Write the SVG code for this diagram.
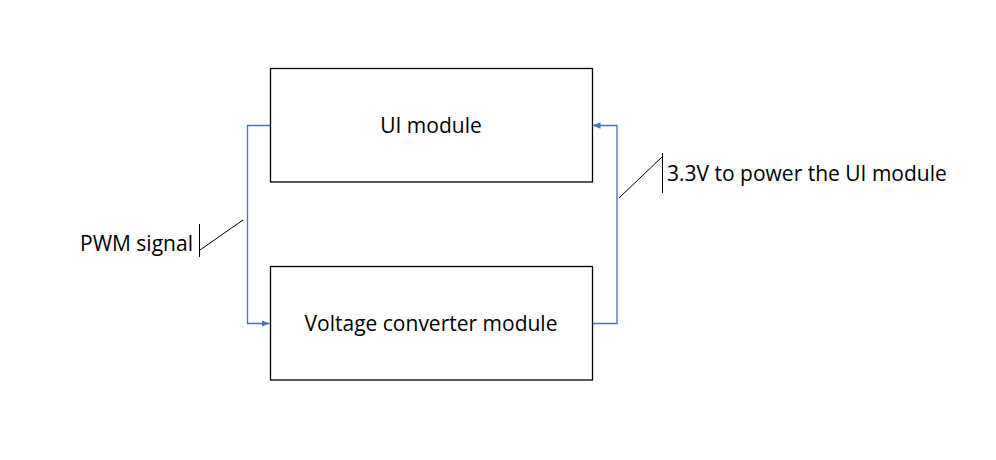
<svg xmlns="http://www.w3.org/2000/svg" width="996" height="460" viewBox="0 0 996 460">
<defs>
<style>
.box{fill:#fff;stroke:#000;stroke-width:1.3}
.lbl{font-family:"Open Sans","Noto Sans",sans-serif;font-size:21px;fill:#000}
.conn{fill:none;stroke:#4a72b8;stroke-width:1.3}
.call{fill:none;stroke:#000;stroke-width:1}
</style>
<marker id="arr" viewBox="0 0 10 8" refX="10" refY="4" markerWidth="8" markerHeight="6.4" markerUnits="userSpaceOnUse" orient="auto">
<path d="M0,0 L10,4 L0,8 Z" fill="#4a72b8"/>
</marker>
</defs>
<rect width="996" height="460" fill="#fff"/>
<g id="connectors">
<path class="conn" d="M270,125.5 H247.5 V323.5 H269.5" marker-end="url(#arr)"/>
<path class="conn" d="M592,323.5 H617 V125.5 H592.5" marker-end="url(#arr)"/>
</g>
<g id="ui-module">
<rect class="box" x="270.5" y="68.5" width="322" height="113.5"/>
<text class="lbl" x="431" y="133" text-anchor="middle">UI module</text>
</g>
<g id="voltage-converter-module">
<rect class="box" x="270.5" y="266.5" width="322" height="113.5"/>
<text class="lbl" x="431" y="331" text-anchor="middle">Voltage converter module</text>
</g>
<g id="pwm-label">
<line class="call" x1="199.5" y1="224" x2="199.5" y2="257"/>
<line class="call" x1="200" y1="250" x2="243" y2="220"/>
<text class="lbl" x="80" y="251">PWM signal</text>
</g>
<g id="power-label">
<line class="call" x1="662.5" y1="153" x2="662.5" y2="193"/>
<line class="call" x1="619" y1="198" x2="662" y2="157"/>
<text class="lbl" x="667" y="181">3.3V to power the UI module</text>
</g>
</svg>
